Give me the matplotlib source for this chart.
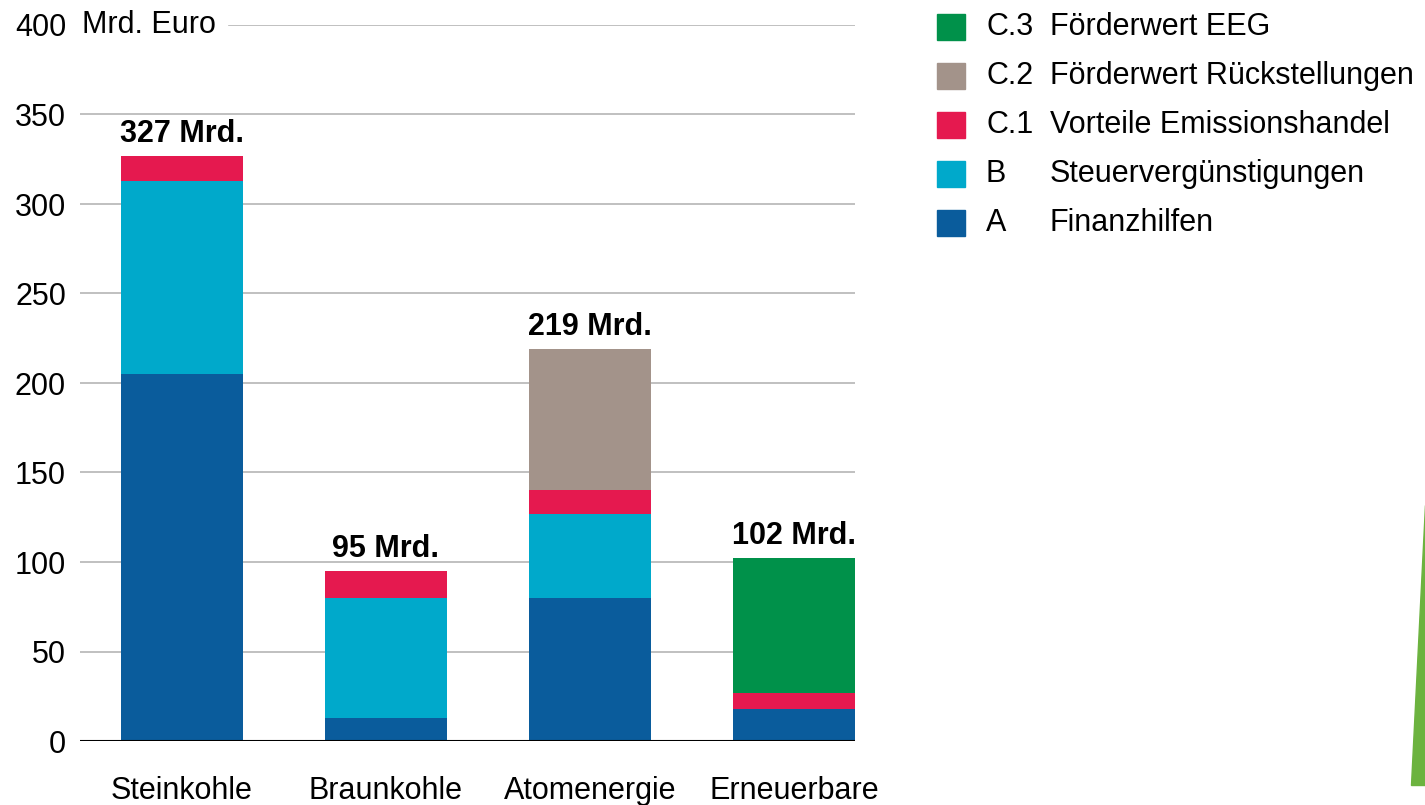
import matplotlib.pyplot as plt
from matplotlib.patches import Rectangle, Polygon
import numpy as np

plt.rcParams['font.family'] = ['Liberation Sans', 'DejaVu Sans']

categories = ["Steinkohle", "Braunkohle", "Atomenergie", "Erneuerbare"]
finanzhilfen = [205, 13, 80, 18]
steuer = [108, 67, 47, 0]
emission = [14, 15, 13, 9]
rueckstellungen = [0, 0, 79, 0]
eeg = [0, 0, 0, 75]
totals = [327, 95, 219, 102]

yticks = [0, 50, 100, 150, 200, 250, 300, 350, 400]

legend_codes = ["C.3", "C.2", "C.1", "B", "A"]
legend_texts = ["Förderwert EEG", "Förderwert Rückstellungen",
                "Vorteile Emissionshandel", "Steuervergünstigungen", "Finanzhilfen"]
colors = {"A": "#0a5c9c", "B": "#00a9cb", "C.1": "#e5194f",
          "C.2": "#a3938a", "C.3": "#00914a"}

FS = 22

fig = plt.figure(figsize=(14.25, 8.05), dpi=100)
ax = fig.add_axes([80 / 1425, 64 / 805, 775 / 1425, 716 / 805])

x = np.arange(len(categories))
w = 0.6
series = [("A", finanzhilfen), ("B", steuer), ("C.1", emission),
          ("C.2", rueckstellungen), ("C.3", eeg)]
bottom = np.zeros(len(categories))
for code, vals in series:
    vals = np.array(vals, dtype=float)
    ax.bar(x, vals, w, bottom=bottom, color=colors[code], zorder=2)
    bottom += vals

for xi, t in zip(x, totals):
    ax.text(xi, t + 4, f"{t} Mrd.", ha="center", va="bottom",
            fontsize=FS, fontweight="bold")

# gridlines
for yv in yticks[1:]:
    x0 = -0.5 if yv != 400 else 0.23
    ax.plot([x0, 3.3], [yv, yv], color="#b5b5b5", lw=1.2, zorder=1)
ax.axhline(0, color="black", lw=1.5, zorder=3)

ax.set_xlim(-0.5, 3.3)
ax.set_ylim(0, 400)
ax.set_xticks(x)
ax.set_xticklabels(categories, fontsize=FS)
ax.set_yticks(yticks)
ax.set_yticklabels([str(v) for v in yticks], fontsize=FS)
ax.tick_params(axis="x", length=0, pad=25)
ax.tick_params(axis="y", length=0, pad=10)
for s in ax.spines.values():
    s.set_visible(False)

ax.text(-0.49, 400, "Mrd. Euro", ha="left", va="center", fontsize=FS)

# legend
for i, (code, txt) in enumerate(zip(legend_codes, legend_texts)):
    yc = 1 - (27 + i * 49) / 805
    fig.patches.append(Rectangle((937 / 1425, yc - 13 / 805), 28 / 1425, 26 / 805,
                                 transform=fig.transFigure, color=colors[code]))
    fig.text(986 / 1425, yc, code, va="center", ha="left", fontsize=FS)
    fig.text(1050 / 1425, yc, txt, va="center", ha="left", fontsize=FS)

# decorative green sliver at bottom right
fig.patches.append(Polygon([(1411 / 1425, 20 / 805), (1425 / 1425, 20 / 805),
                            (1425 / 1425, 300 / 805)],
                           closed=True, transform=fig.transFigure,
                           color="#6cb33f"))

fig.savefig("out.png", dpi=100)
